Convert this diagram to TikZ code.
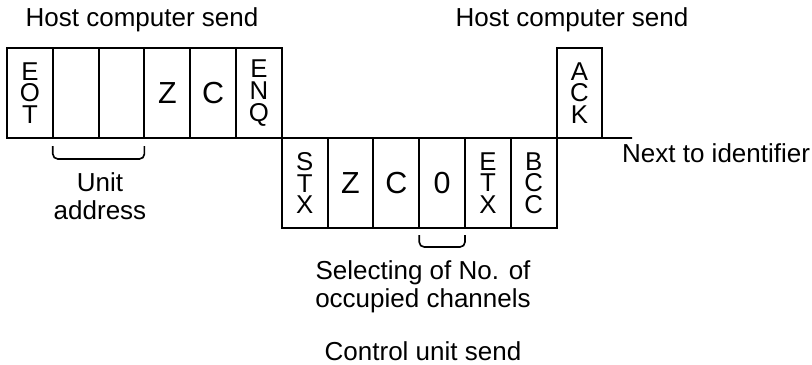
\documentclass[tikz,border=0pt]{standalone}
\usepackage{fontspec}
\setmainfont{Liberation Sans}
\usetikzlibrary{positioning}

\begin{document}
\begin{tikzpicture}[
    x=0.03cm, y=-0.03cm,
    cell/.style={draw, line width=1.6pt, outer sep=0pt, inner sep=0pt, minimum width=1.374cm, minimum height=2.7cm, align=center, font=\fontsize{22}{18.5}\selectfont},
    big/.style={font=\fontsize{26}{28}\selectfont},
    lbl/.style={text=black, font=\fontsize{22.2}{23.8}\selectfont, align=center},
    line/.style={line width=1.6pt},
    bracket/.style={line width=1.4pt, rounded corners=0.15cm}
]
\useasboundingbox (0,0) rectangle (812,365);

% ---------- Host computer send ----------
\node[cell] (eot) at (29.9,93) {E\\O\\T};
\node[cell, right=0pt of eot] (ua1) {};
\node[cell, right=0pt of ua1] (ua2) {};
\node[cell, big, right=0pt of ua2] (zh) {Z};
\node[cell, big, right=0pt of zh] (ch) {C};
\node[cell, right=0pt of ch] (enq) {E\\N\\Q};

% ---------- Control unit send ----------
\node[cell, anchor=north west] (stx) at (enq.south east) {S\\T\\X};
\node[cell, big, right=0pt of stx] (zc) {Z};
\node[cell, big, right=0pt of zc] (cc) {C};
\node[cell, big, right=0pt of cc] (zero) {0};
\node[cell, right=0pt of zero] (etx) {E\\T\\X};
\node[cell, right=0pt of etx] (bcc) {B\\C\\C};

% ---------- Reply ----------
\node[cell, anchor=south west] (ack) at (bcc.north east) {A\\C\\K};

% ---------- Time line ----------
\coordinate (lineend) at (632,138);
\draw[line] (eot.south west) -- (lineend);

% ---------- Brackets ----------
\draw[bracket] ([yshift=-0.24cm]ua1.south west) -- ([yshift=-0.63cm]ua1.south west)
    -- ([yshift=-0.63cm]ua2.south east) -- ([yshift=-0.24cm]ua2.south east);
\draw[bracket] ([yshift=-0.21cm]zero.south west) -- ([yshift=-0.57cm]zero.south west)
    -- ([yshift=-0.57cm]zero.south east) -- ([yshift=-0.21cm]zero.south east);

% ---------- Labels ----------
\node[lbl] (hostl) at (142,20) {Host computer send};
\node[lbl] (hostr) at (572,20) {Host computer send};
\node[lbl, anchor=west] (next) at (618,153) {Next to identifier};
\node[lbl] (unit) at (100,196) {Unit\\address};
\node[lbl] (sel) at (423,287) {Selecting of No. of\\occupied channels};
\node[lbl] (ctrl) at (423,351) {Control unit send};

\end{tikzpicture}
\end{document}
